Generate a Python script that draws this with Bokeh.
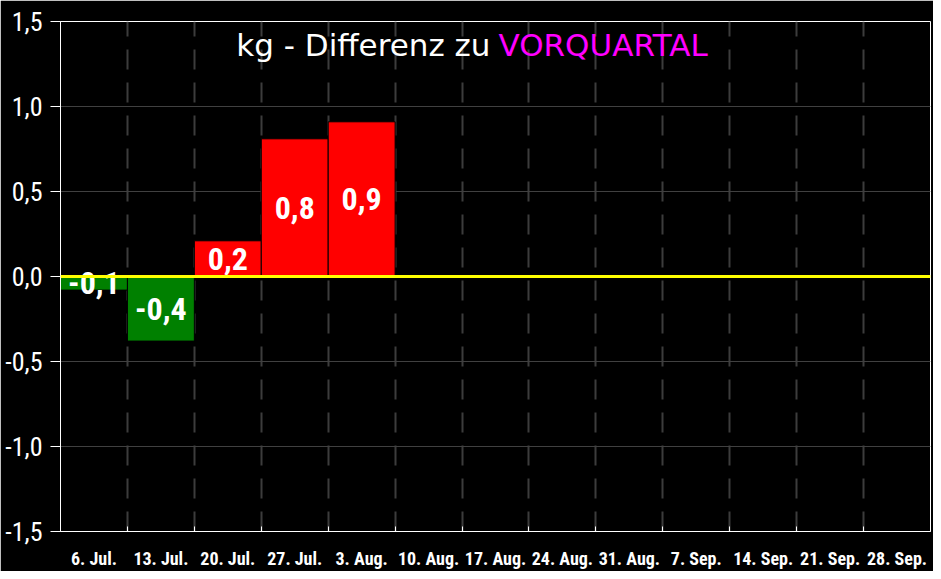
from bokeh.plotting import figure
from bokeh.models import (Range1d, FixedTicker, CustomJSTickFormatter, Span, Label,
                          ColumnDataSource)
from bokeh.core.properties import value
from bokeh.embed import file_html
from bokeh.resources import INLINE

weeks = ["6. Jul.", "13. Jul.", "20. Jul.", "27. Jul.", "3. Aug.", "10. Aug.", "17. Aug.",
         "24. Aug.", "31. Aug.", "7. Sep.", "14. Sep.", "21. Sep.", "28. Sep."]
diff_kg = [-0.08, -0.38, 0.21, 0.81, 0.91]
y_ticks = [-1.5, -1.0, -0.5, 0.0, 0.5, 1.0, 1.5]
title_main = "kg - Differenz zu"
title_accent = "VORQUARTAL"

COND = "'Roboto Condensed', 'DejaVu Sans Condensed', 'Liberation Sans Narrow', 'Noto Sans', sans-serif"

n = len(weeks)
centers = list(range(n))
bounds = [i + 0.5 for i in range(n - 1)]

p = figure(width=933, height=571, output_backend="svg", toolbar_location=None,
           x_range=Range1d(-0.5, n - 0.5), y_range=Range1d(-1.5, 1.5),
           min_border_left=60, min_border_right=3, min_border_top=21, min_border_bottom=37)
p.background_fill_color = "black"
p.border_fill_color = "black"
p.outline_line_color = "white"
p.outline_line_width = 1

# bars
src = ColumnDataSource(dict(
    x=centers[:len(diff_kg)],
    top=diff_kg,
    mid=[v / 2 for v in diff_kg],
    color=["#ff0000" if v >= 0 else "#008000" for v in diff_kg],
    lab=[("%.1f" % v).replace(".", ",") for v in diff_kg],
))
p.vbar(x="x", top="top", bottom=0, width=1.0, fill_color="color", line_color="black",
       line_width=1, source=src)

# zero line
p.add_layout(Span(location=0, dimension="width", line_color="#ffff00", line_width=3))

p.text(x="x", y="mid", text="lab", source=src, text_color="white",
       text_font=value(COND), text_font_style="bold", text_font_size="32px",
       text_align="center", text_baseline="middle")

# x axis
xa = p.xaxis[0]
xa.ticker = FixedTicker(ticks=centers, minor_ticks=bounds)
xa.major_label_overrides = {i: w for i, w in zip(centers, weeks)}
xa.major_tick_in = 0
xa.major_tick_out = 0
xa.minor_tick_in = 5
xa.minor_tick_out = 0
xa.minor_tick_line_color = "white"
xa.axis_line_color = "white"
xa.major_label_text_color = "white"
xa.major_label_text_font = COND
xa.major_label_text_font_style = "bold"
xa.major_label_text_font_size = "18px"
xa.major_label_standoff = 16

# y axis
ya = p.yaxis[0]
ya.ticker = FixedTicker(ticks=y_ticks)
ya.formatter = CustomJSTickFormatter(code="return tick.toFixed(1).replace('.', ',');")
ya.major_tick_in = 0
ya.major_tick_out = 10
ya.minor_tick_line_color = None
ya.major_tick_line_color = "white"
ya.axis_line_color = "white"
ya.major_label_text_color = "white"
ya.major_label_text_font = COND
ya.major_label_text_font_style = "normal"
ya.major_label_text_font_size = "26px"
ya.major_label_standoff = 8

# grids
p.xgrid.ticker = FixedTicker(ticks=bounds)
p.xgrid.grid_line_color = "#3c3c3c"
p.xgrid.grid_line_width = 2
p.xgrid.grid_line_dash = "20 13"
p.ygrid.ticker = FixedTicker(ticks=[-1.0, -0.5, 0.5, 1.0])
p.ygrid.grid_line_color = "#404040"
p.ygrid.grid_line_width = 1

# title
p.add_layout(Label(x=6.0, y=1.36, text=title_main, text_color="white",
                   text_font="DejaVu Sans", text_font_size="31px", text_align="right",
                   text_baseline="middle", x_offset=-5))
p.add_layout(Label(x=6.0, y=1.36, text=title_accent, text_color="#ff00ff",
                   text_font="DejaVu Sans", text_font_size="31px", text_align="left",
                   text_baseline="middle", x_offset=3))

open("out.html", "w").write(file_html(p, INLINE))
